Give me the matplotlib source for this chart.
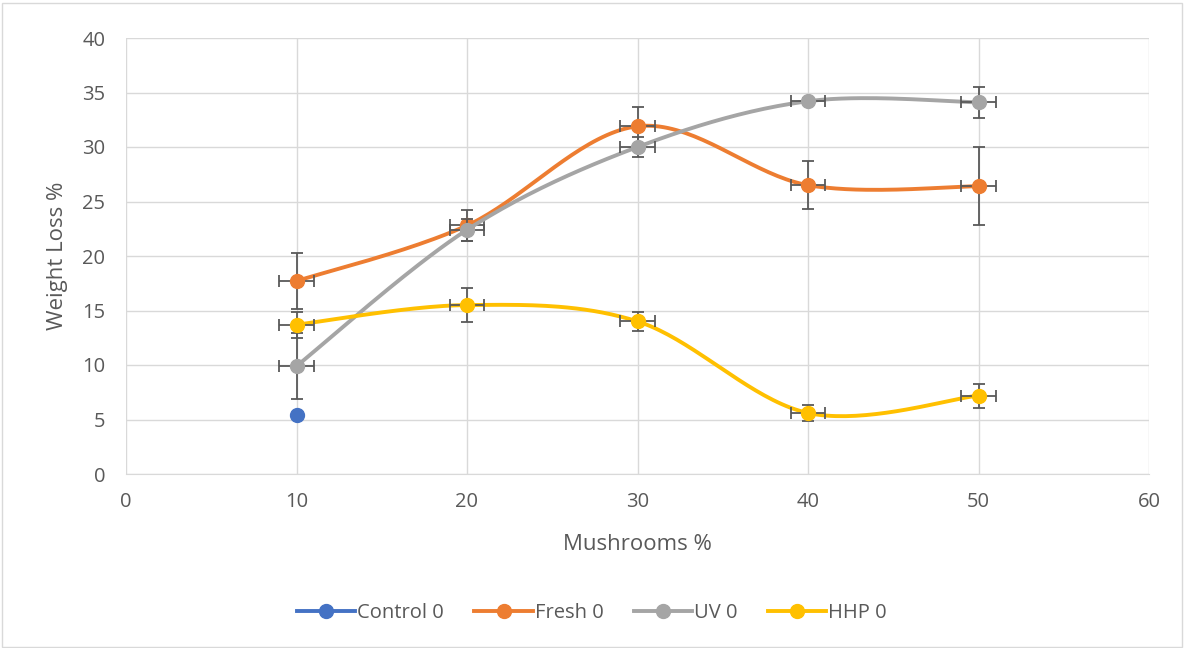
import numpy as np
import matplotlib
matplotlib.use("Agg")
import matplotlib.pyplot as plt
from matplotlib.lines import Line2D
from matplotlib.patches import Rectangle

plt.rcParams['font.family'] = ['Open Sans', 'DejaVu Sans']

# data
control_x = [10]
control_y = [5.4]

mushrooms = [10, 20, 30, 40, 50]
fresh = [17.7, 22.8, 31.9, 26.5, 26.4]
fresh_err = [2.6, 1.4, 1.8, 2.2, 3.6]
uv = [9.9, 22.4, 30.0, 34.2, 34.1]
uv_err = [3.0, 1.0, 0.9, 0.3, 1.4]
hhp = [13.7, 15.5, 14.0, 5.6, 7.2]
hhp_err = [1.2, 1.6, 0.9, 0.7, 1.1]
x_err = 1.0

labels = ["Control 0", "Fresh 0", "UV 0", "HHP 0"]
colors = ["#4472C4", "#ED7D31", "#A5A5A5", "#FFC000"]
text_col = "#595959"


def smooth(xs, ys, n=40):
    # Excel style smoothed line (Catmull-Rom with Bezier segments)
    pts = np.column_stack([xs, ys]).astype(float)
    out = []
    for i in range(len(pts) - 1):
        p0 = pts[i - 1] if i > 0 else pts[i]
        p1 = pts[i]
        p2 = pts[i + 1]
        p3 = pts[i + 2] if i + 2 < len(pts) else pts[i + 1]
        c1 = p1 + (p2 - p0) / 6.0
        c2 = p2 - (p3 - p1) / 6.0
        t = np.linspace(0, 1, n)[:, None]
        seg = ((1 - t) ** 3) * p1 + 3 * ((1 - t) ** 2) * t * c1 + 3 * (1 - t) * t ** 2 * c2 + t ** 3 * p2
        out.append(seg if i == 0 else seg[1:])
    seg = np.vstack(out)
    return seg[:, 0], seg[:, 1]


fig = plt.figure(figsize=(11.84, 6.48), dpi=100)
fig.patches.append(Rectangle((0.002, 0.002), 0.996, 0.993, transform=fig.transFigure,
                             fill=False, edgecolor="#d9d9d9", lw=1))
ax = fig.add_axes([126 / 1184, 1 - 474 / 648, (1149 - 126) / 1184, (474 - 38) / 648])

series = [(fresh, fresh_err, colors[1]), (uv, uv_err, colors[2]), (hhp, hhp_err, colors[3])]
for k, (ys, errs, c) in enumerate(series):
    base = 3 + k * 3
    sx, sy = smooth(mushrooms, ys)
    ax.plot(sx, sy, color=c, lw=2.8, zorder=base, solid_capstyle="round")
    ax.errorbar(mushrooms, ys, yerr=errs, xerr=x_err, fmt="none", ecolor="#595959",
                elinewidth=1.3, capsize=4.3, capthick=1.3, zorder=base + 1)
    ax.plot(mushrooms, ys, "o", color=c, ms=10, zorder=base + 2)

ax.plot(control_x, control_y, "o", color=colors[0], ms=10, zorder=12)

ax.set_xlim(0, 60)
ax.set_ylim(0, 40)
ax.set_xticks(range(0, 61, 10))
ax.set_yticks(range(0, 41, 5))
ax.grid(True, color="#d9d9d9", lw=1)
ax.set_axisbelow(True)
for s in ["top", "right", "left"]:
    ax.spines[s].set_visible(False)
ax.spines["bottom"].set_color("#d9d9d9")
ax.tick_params(axis="y", length=0, labelsize=14.5, labelcolor=text_col, pad=15)
ax.tick_params(axis="x", length=0, labelsize=14.5, labelcolor=text_col, pad=13)
ax.set_xlabel("Mushrooms %", fontsize=16, color=text_col, va="center")
ax.set_ylabel("Weight Loss %", fontsize=16, color=text_col, va="center")
ax.xaxis.set_label_coords(0.5, (474 - 545) / 436)
ax.yaxis.set_label_coords((58 - 126) / 1023, 0.5)

handles = [Line2D([], [], color=c, lw=2.8, marker="o", ms=10) for c in colors]
fig.legend(handles, labels, loc="center", bbox_to_anchor=(0.5, 1 - 613 / 648), ncol=4,
           frameon=False, fontsize=14.5, labelcolor=text_col, handlelength=2.9,
           handletextpad=0.1, columnspacing=1.5)

fig.savefig("out.png", dpi=100)
